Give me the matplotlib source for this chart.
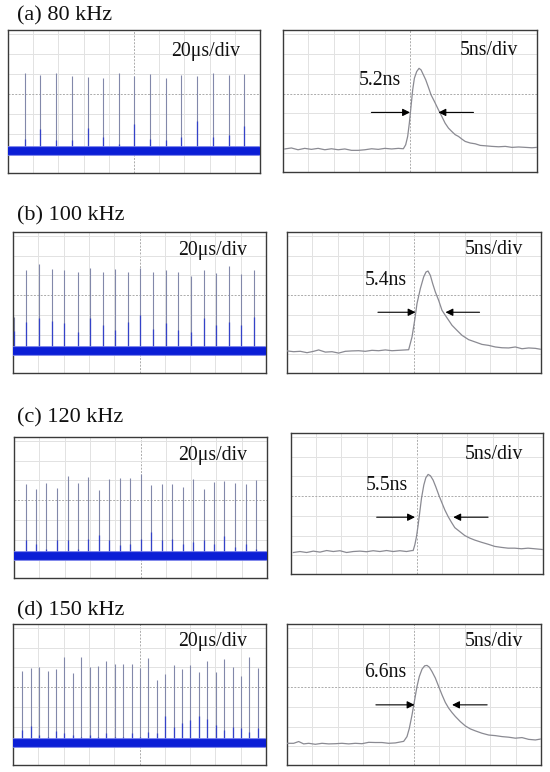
import matplotlib
matplotlib.use("Agg")
import matplotlib.pyplot as plt

# ---------------- data ----------------
titles = ["(a) 80 kHz", "(b) 100 kHz", "(c) 120 kHz", "(d) 150 kHz"]
widths = ["5.2ns", "5.4ns", "5.5ns", "6.6ns"]
left_scale = "20\u03bcs/div"
right_scale = "5ns/div"

# pulse trains (time in us, amplitude in divisions)
a_t = [13.2, 25.6, 38.0, 50.4, 63.1, 75.5, 87.9, 100.3, 112.7, 125.1, 137.5, 149.9, 162.6, 175.0, 187.6]
a_top = [1.04, 0.95, 1.04, 0.92, 0.87, 0.80, 1.07, 0.92, 1.00, 0.80, 0.97, 0.92, 1.07, 0.97, 1.00]
a_sub = [-2.23, -1.74, -2.32, -2.32, -1.69, -2.16, -2.48, -1.49, -2.23, -2.32, -2.16, -1.35, -2.16, -2.07, -1.60]

b_t = [0.6, 10.6, 20.9, 30.9, 40.6, 51.0, 60.8, 70.8, 80.8, 90.6, 100.7, 110.7, 120.7, 130.8, 140.6, 150.6,
       160.6, 170.7, 180.2, 190.2]
b_top = [-1.10, 1.29, 1.56, 1.31, 1.29, 1.15, 1.37, 1.15, 1.32, 1.15, 1.37, 1.15, 1.29, 1.15, 0.99, 1.26,
         1.12, 1.46, 1.09, 1.26]
b_sub = [-1.80, -1.36, -1.16, -1.33, -1.41, -1.87, -1.16, -1.53, -1.78, -1.36, -1.03, -1.70, -1.40, -1.75,
         -1.87, -1.15, -1.53, -1.36, -1.53, -1.11]

c_t = [9.2, 17.4, 25.6, 34.0, 42.5, 50.7, 58.8, 67.0, 75.2, 83.7, 91.8, 100.3, 108.5, 116.9, 125.1, 133.5,
       141.7, 149.9, 158.1, 166.3, 174.7, 183.1, 191.6]
c_top = [0.83, 0.55, 0.88, 0.61, 1.22, 0.88, 1.17, 0.50, 1.05, 1.12, 1.14, 1.34, 0.78, 0.83, 0.83, 0.66,
         1.08, 0.58, 0.92, 0.97, 0.87, 0.83, 1.00]
c_sub = [-2.04, -2.21, -2.46, -2.04, -2.04, -2.46, -1.96, -1.75, -2.04, -2.29, -2.21, -1.96, -1.62, -2.04,
         -1.96, -2.21, -2.13, -2.04, -2.21, -1.82, -2.38, -2.21, -2.46]

d_t = [7.4, 14.3, 20.6, 27.5, 33.8, 40.7, 47.3, 53.9, 60.5, 67.1, 73.7, 80.6, 87.2, 93.8, 100.4, 107.0,
       113.6, 120.5, 127.1, 133.7, 140.3, 146.9, 153.5, 160.1, 167.0, 173.6, 180.2, 186.8, 193.4]
d_top = [0.84, 0.96, 1.01, 0.84, 0.93, 1.52, 0.71, 1.51, 1.00, 1.05, 1.30, 1.17, 1.17, 1.17, 0.96, 1.47,
         0.37, 0.68, 1.10, 0.93, 1.10, 0.76, 1.30, 0.76, 1.44, 1.01, 0.54, 1.52, 0.96]
d_sub = [-2.17, -1.95, -2.43, -2.51, -2.21, -2.34, -2.43, -2.51, -2.43, -2.51, -2.34, -2.51, -2.51, -2.34,
         -2.51, -2.26, -2.34, -1.46, -2.00, -1.83, -1.66, -1.49, -1.63, -1.92, -2.17, -2.00, -2.08, -2.26, -2.08]

band_level = [-2.86, -2.85, -2.85, -2.85]

# single pulse traces (time in ns, amplitude in divisions)
a_ns = [0.33, 1.65, 2.96, 4.28, 5.59, 6.91, 8.23, 9.54, 10.86, 12.17, 13.49, 14.81, 16.12, 17.44, 18.75,
        20.07, 21.39, 22.70, 23.69, 24.15, 24.54, 24.87, 25.20, 25.53, 25.86, 26.32, 26.78, 27.18, 27.64,
        28.10, 28.62, 29.15, 29.81, 30.60, 31.26, 31.91, 32.57, 33.23, 33.89, 34.55, 35.20, 35.86, 36.85,
        37.84, 38.82, 39.81, 41.13, 42.44, 43.76, 45.07, 46.39, 47.71, 49.02, 50.0]
a_v = [-2.79, -2.74, -2.83, -2.76, -2.81, -2.76, -2.83, -2.78, -2.83, -2.79, -2.86, -2.86, -2.83, -2.78,
       -2.81, -2.76, -2.79, -2.76, -2.78, -2.58, -2.16, -1.49, -0.65, 0.19, 0.77, 1.11, 1.27, 1.19, 0.94,
       0.69, 0.32, -0.07, -0.40, -0.82, -1.15, -1.49, -1.74, -1.91, -2.07, -2.16, -2.29, -2.41, -2.49,
       -2.53, -2.61, -2.63, -2.66, -2.68, -2.66, -2.71, -2.69, -2.71, -2.73, -2.71]

b_ns = [0, 1.31, 2.62, 3.94, 5.25, 6.23, 7.55, 8.86, 10.17, 11.48, 12.80, 14.11, 15.42, 16.73, 18.05,
        19.36, 20.67, 21.98, 23.30, 23.95, 24.61, 25.13, 25.59, 26.25, 26.90, 27.36, 27.76, 28.22, 28.68,
        29.20, 29.86, 30.51, 31.17, 31.83, 32.48, 33.47, 34.45, 35.76, 37.08, 38.39, 39.70, 41.01, 42.33,
        43.64, 44.95, 46.26, 47.57, 48.89, 50.0]
b_v = [-2.83, -2.87, -2.85, -2.92, -2.85, -2.78, -2.89, -2.87, -2.94, -2.85, -2.83, -2.82, -2.85, -2.80,
       -2.82, -2.78, -2.82, -2.80, -2.78, -2.77, -2.12, -1.28, -0.43, 0.33, 0.92, 1.17, 1.22, 1.00, 0.58,
       0.16, -0.27, -0.77, -1.03, -1.28, -1.53, -1.79, -2.04, -2.26, -2.38, -2.50, -2.55, -2.63, -2.67,
       -2.68, -2.63, -2.72, -2.68, -2.70, -2.75]

c_ns = [0.46, 1.78, 3.10, 4.43, 5.75, 7.07, 8.39, 9.71, 11.03, 12.35, 13.67, 14.99, 16.31, 17.64, 18.96,
        20.28, 21.60, 22.92, 24.04, 24.24, 24.57, 24.90, 25.23, 25.56, 25.89, 26.35, 26.75, 27.21, 27.67,
        28.20, 28.73, 29.33, 29.85, 30.52, 31.18, 31.84, 32.50, 33.49, 34.48, 35.47, 36.46, 37.78, 39.10,
        40.42, 41.74, 43.07, 44.39, 45.71, 47.03, 48.35, 50.0]
c_v = [-2.86, -2.81, -2.86, -2.79, -2.84, -2.76, -2.81, -2.77, -2.86, -2.81, -2.79, -2.82, -2.77, -2.81,
       -2.76, -2.81, -2.77, -2.81, -2.76, -2.76, -2.47, -2.05, -1.46, -0.79, -0.11, 0.56, 0.93, 1.10, 1.03,
       0.81, 0.47, 0.05, -0.28, -0.70, -1.04, -1.33, -1.60, -1.80, -2.00, -2.13, -2.23, -2.34, -2.44,
       -2.55, -2.60, -2.64, -2.64, -2.67, -2.64, -2.67, -2.71]

d_ns = [0, 1.31, 2.30, 3.28, 4.27, 5.58, 6.89, 8.20, 9.51, 10.83, 12.14, 13.45, 14.76, 16.08, 17.39,
        18.70, 20.01, 21.33, 22.97, 23.62, 24.08, 24.61, 25.07, 25.59, 26.05, 26.58, 27.10, 27.56, 28.02,
        28.54, 29.20, 29.86, 30.51, 31.17, 31.83, 32.48, 33.14, 34.12, 35.11, 36.09, 37.08, 38.39, 39.70,
        41.01, 42.33, 43.64, 44.95, 46.26, 47.57, 48.89, 50.0]
d_v = [-2.85, -2.85, -2.76, -2.88, -2.85, -2.90, -2.85, -2.88, -2.87, -2.85, -2.88, -2.85, -2.87, -2.80,
       -2.81, -2.81, -2.85, -2.83, -2.75, -2.51, -2.09, -1.41, -0.73, 0.03, 0.54, 0.91, 1.08, 1.10, 1.01,
       0.79, 0.46, 0.03, -0.39, -0.78, -1.07, -1.29, -1.49, -1.75, -1.97, -2.12, -2.22, -2.34, -2.43,
       -2.46, -2.51, -2.54, -2.59, -2.56, -2.65, -2.68, -2.63]

# annotation positions (data units of each right panel)
label_xy = [(19.1, 0.44), (19.5, 0.50), (19.0, 0.31), (19.4, 0.51)]
arrow_y = [-0.95, -0.87, -1.07, -0.90]
arrow_left = [(17.4, 25.0), (17.9, 25.3), (17.0, 24.6), (17.5, 25.1)]
arrow_right = [(37.5, 30.6), (37.9, 31.2), (39.1, 32.2), (39.4, 32.5)]
rscale_xy = [(40.5, 1.94), (40.8, 2.07), (40.3, 1.87), (40.8, 2.10)]
lscale_xy = [(157, 1.92), (158, 2.02), (157, 2.02), (158, 2.06)]
title_xy = [(17, 20), (17, 220), (17, 422), (17, 615)]

# panel boxes in pixels (x0, x1, y0, y1)
left_boxes = [(8, 260, 30, 173), (13, 266, 232, 373), (14, 267, 437, 578), (13, 266, 624, 765)]
right_boxes = [(283, 537, 30, 172), (287, 541, 232, 373), (291, 543, 433, 574), (287, 541, 624, 765)]

trains = [(a_t, a_top, a_sub), (b_t, b_top, b_sub), (c_t, c_top, c_sub), (d_t, d_top, d_sub)]
traces = [(a_ns, a_v), (b_ns, b_v), (c_ns, c_v), (d_ns, d_v)]

# ---------------- drawing ----------------
W, H = 550, 772
fig = plt.figure(figsize=(W / 100, H / 100), dpi=100)
FONT = "Liberation Serif"
FS = 14.2

YLO, YHI = -3.95, 3.2


def make_ax(box, xmax):
    x0, x1, y0, y1 = box
    ax = fig.add_axes([x0 / W, 1 - y1 / H, (x1 - x0) / W, (y1 - y0) / H])
    ax.set_xlim(0, xmax)
    ax.set_ylim(YLO, YHI)
    ax.set_xticks([])
    ax.set_yticks([])
    for s in ax.spines.values():
        s.set_color("#3a3a3a")
        s.set_linewidth(1.0)
    step = xmax / 10
    for k in range(1, 10):
        if k == 5:
            ax.axvline(k * step, color="#ababab", lw=0.7, ls=(0, (2, 1.5)), zorder=0)
        else:
            ax.axvline(k * step, color="#e2e2e2", lw=0.7, zorder=0)
    for yv in range(-3, 4):
        if yv == 0:
            ax.axhline(yv, color="#ababab", lw=0.7, ls=(0, (2, 1.5)), zorder=0)
        else:
            ax.axhline(yv, color="#e2e2e2", lw=0.7, zorder=0)
    return ax


for i in range(4):
    # left: pulse train
    ax = make_ax(left_boxes[i], 200)
    t, top, sub = trains[i]
    base = band_level[i]
    ax.vlines(t, base, top, color="#8288aa", lw=0.8, zorder=2)
    ax.vlines(t, base, sub, color="#3442c8", lw=0.9, zorder=3)
    ax.plot([0, 200], [base, base], color="#6f78e8", lw=7.0, solid_capstyle="butt", zorder=3)
    ax.plot([0, 200], [base, base], color="#0b1ed6", lw=5.6, solid_capstyle="butt", zorder=4)
    ax.text(lscale_xy[i][0], lscale_xy[i][1], left_scale, ha="center", va="baseline",
            fontsize=FS, family=FONT, color="#111111")

    # right: single pulse
    ax = make_ax(right_boxes[i], 50)
    ns, v = traces[i]
    ax.plot(ns, v, color="#8a8a92", lw=0.9, zorder=3)
    ax.text(rscale_xy[i][0], rscale_xy[i][1], right_scale, ha="center", va="baseline",
            fontsize=FS, family=FONT, color="#111111")
    ax.text(label_xy[i][0], label_xy[i][1], widths[i], ha="center", va="baseline",
            fontsize=FS, family=FONT, color="#111111")
    ay = arrow_y[i]
    for (xs, xe) in (arrow_left[i], arrow_right[i]):
        ax.annotate("", xy=(xe, ay), xytext=(xs, ay),
                    arrowprops=dict(arrowstyle="-|>", color="black", lw=0.8,
                                    mutation_scale=11, shrinkA=0, shrinkB=0), zorder=5)

    # title
    fig.text(title_xy[i][0] / W, 1 - title_xy[i][1] / H, titles[i], ha="left", va="baseline",
             fontsize=16, family=FONT, color="#111111")

fig.savefig("out.png", dpi=100)
